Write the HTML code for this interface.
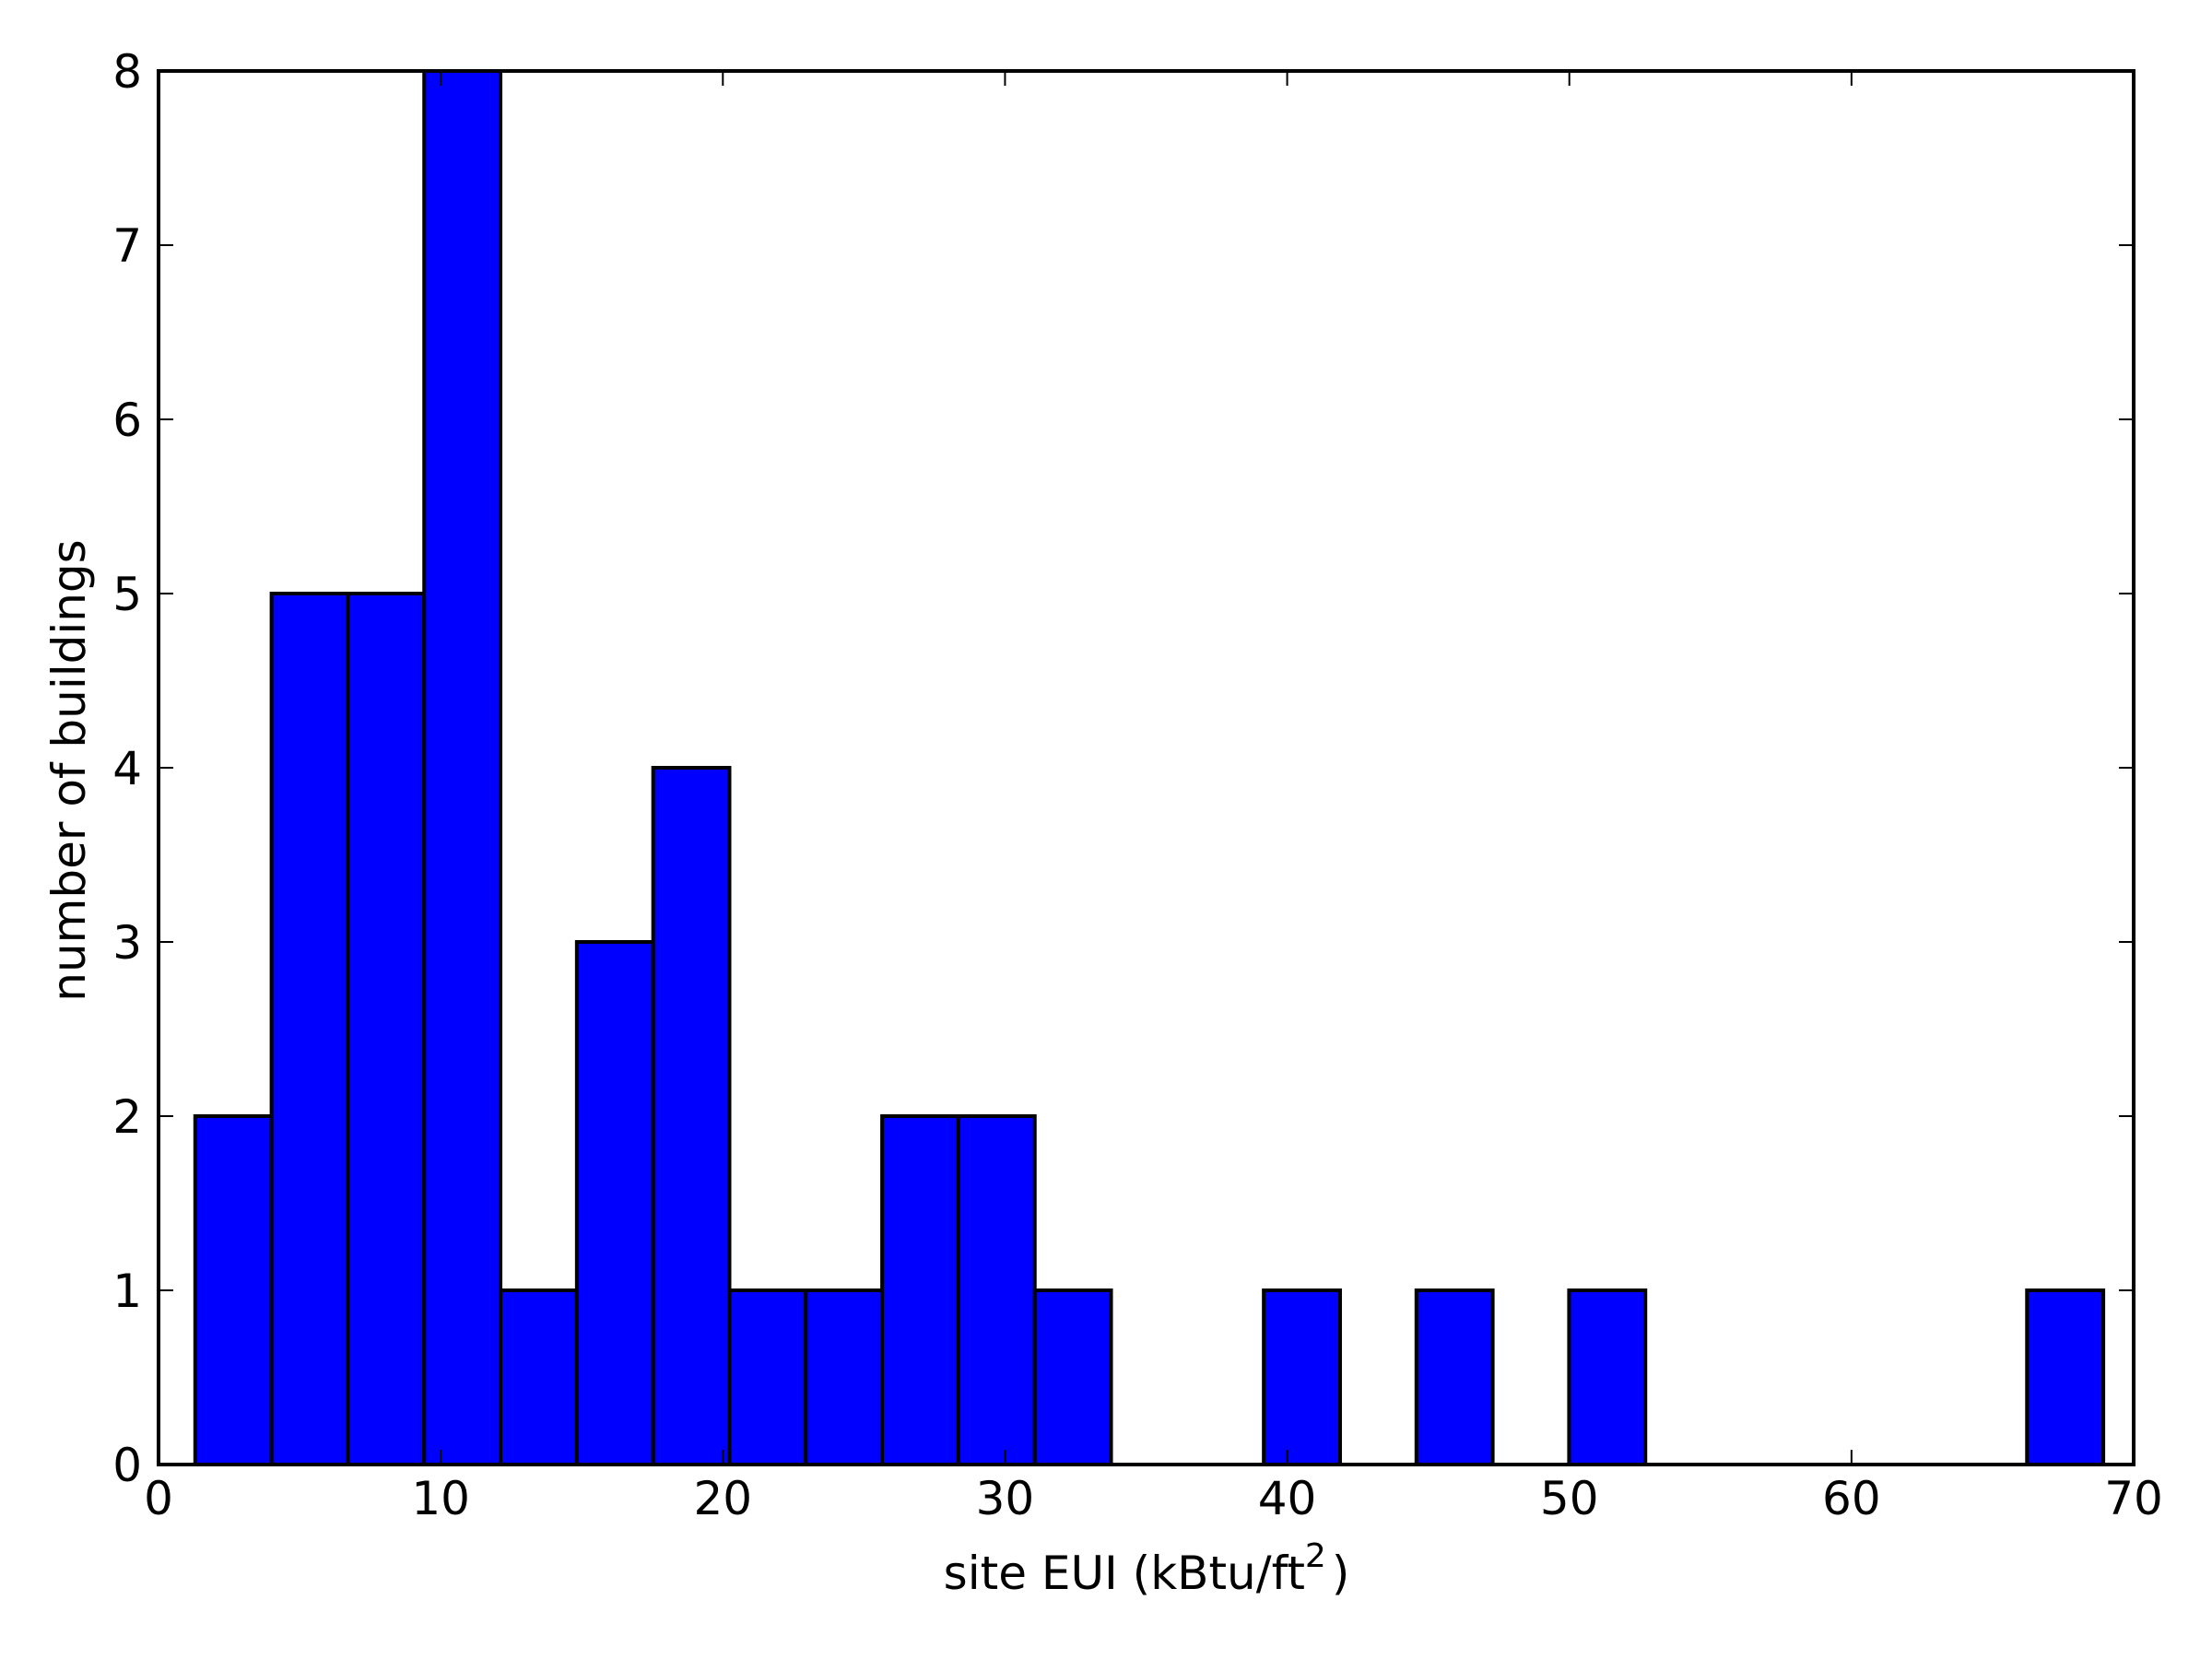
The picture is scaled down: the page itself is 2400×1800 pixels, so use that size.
<!DOCTYPE html>
<html><head><meta charset="utf-8"><style>
html,body{margin:0;padding:0;background:#fff;}
svg{display:block;}
text{font-family:"DejaVu Sans","Liberation Sans",sans-serif;fill:#000;}
</style></head><body>
<svg id="chart" width="2400" height="1800" viewBox="0 0 2400 1800" xmlns="http://www.w3.org/2000/svg">
<rect width="2400" height="1800" fill="#fff"/>
<g id="bars"></g>
<g id="ticks"></g>
<rect x="172" y="77" width="2143" height="1512" fill="none" stroke="#000" stroke-width="4"/>
<text x="1244" y="1724" font-size="50" text-anchor="middle">site EUI (kBtu/ft<tspan font-size="36" dy="-24">2</tspan><tspan dy="24" dx="6">)</tspan></text>
<text transform="translate(92,836) rotate(-90)" font-size="50" text-anchor="middle">number of buildings</text>
</svg>
<script>
const binStart = 1.3;
const binWidth = 2.705;
const counts = [2,5,5,8,1,3,4,1,1,2,2,1,0,0,1,0,1,0,1,0,0,0,0,0,1];
const xTicks = [0,10,20,30,40,50,60,70];
const yTicks = [0,1,2,3,4,5,6,7,8];

const L=172,R=2315,T=77,B=1589;
const xMin=0,xMax=70,yMin=0,yMax=8;
function sx(v){return L+(v-xMin)/(xMax-xMin)*(R-L);}
function sy(v){return B-(v-yMin)/(yMax-yMin)*(B-T);}
const NS="http://www.w3.org/2000/svg";
const bars=document.getElementById('bars');
counts.forEach((c,i)=>{
  if(c<=0) return;
  const x0=sx(binStart+i*binWidth), x1=sx(binStart+(i+1)*binWidth);
  const r=document.createElementNS(NS,'rect');
  r.setAttribute('x',x0);r.setAttribute('y',sy(c));
  r.setAttribute('width',x1-x0);r.setAttribute('height',sy(0)-sy(c));
  r.setAttribute('fill','#0000ff');r.setAttribute('stroke','#000');r.setAttribute('stroke-width','4');
  
  
  bars.appendChild(r);
});
const tg=document.getElementById('ticks');
function line(x1,y1,x2,y2){
  const l=document.createElementNS(NS,'line');
  l.setAttribute('x1',x1);l.setAttribute('y1',y1);l.setAttribute('x2',x2);l.setAttribute('y2',y2);
  l.setAttribute('stroke','#000');l.setAttribute('stroke-width','2');
  
  
  tg.appendChild(l);
}
xTicks.forEach(v=>{
  const x=sx(v);
  line(x,B,x,B-16);line(x,T,x,T+16);
  const t=document.createElementNS(NS,'text');
  t.setAttribute('x',x);t.setAttribute('y',1643);t.setAttribute('font-size','50');t.setAttribute('text-anchor','middle');
  t.textContent=v;
  
  
  tg.appendChild(t);
});
yTicks.forEach(v=>{
  const y=sy(v);
  line(L,y,L+16,y);line(R,y,R-16,y);
  const t=document.createElementNS(NS,'text');
  t.setAttribute('x',154);t.setAttribute('y',y+18);t.setAttribute('font-size','50');t.setAttribute('text-anchor','end');
  t.textContent=v;
  
  
  tg.appendChild(t);
});
</script>
</body></html>
